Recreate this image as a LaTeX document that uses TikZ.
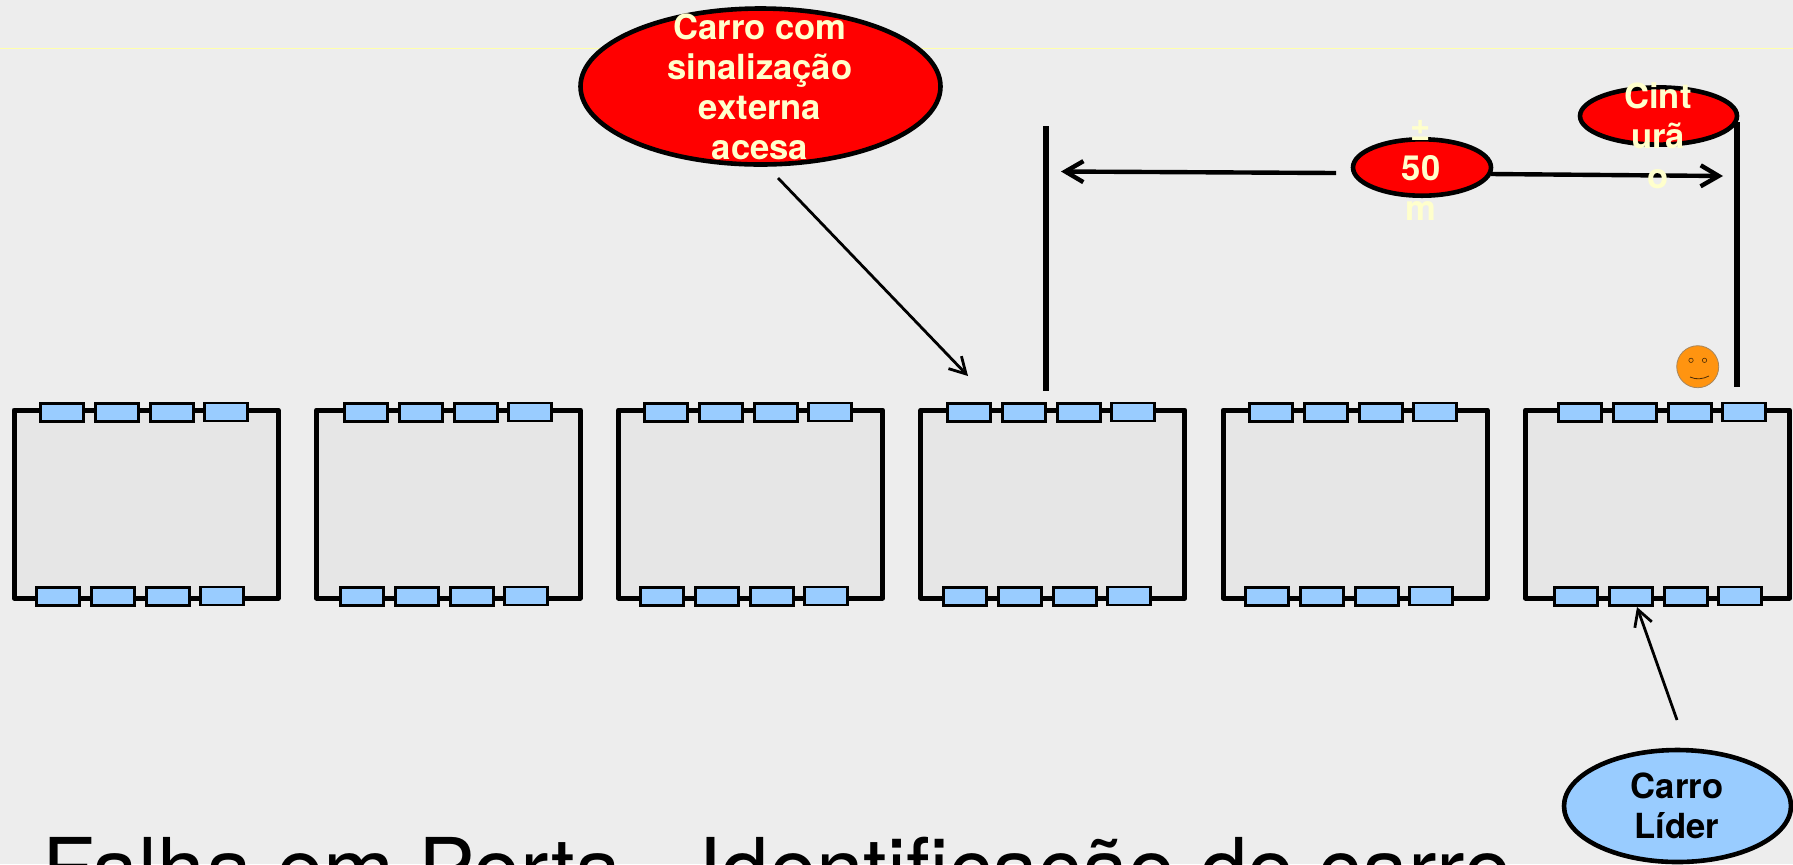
\documentclass[tikz,border=0pt]{standalone}
\usepackage{fontspec}
\setmainfont{TeX Gyre Heros}
\usetikzlibrary{arrows.meta,shapes.geometric}
\definecolor{bgc}{HTML}{EDEDED}
\definecolor{carc}{HTML}{E6E6E6}
\definecolor{winc}{HTML}{99CCFF}
\definecolor{redc}{HTML}{FF0000}
\definecolor{txtc}{HTML}{FFFFCC}
\definecolor{facec}{HTML}{FF9410}
\tikzset{
  x=0.5pt,y=-0.5pt,
  car/.style={draw=black,fill=carc,line width=2.5pt,line join=round,minimum width=132pt,minimum height=94pt,inner sep=0pt,outer sep=0pt},
  win/.style={draw=black,fill=winc,line width=1.3pt,minimum width=21.5pt,minimum height=9pt,inner sep=0pt,outer sep=0pt},
  bubble/.style={ellipse,draw=black,line width=2.3pt,inner sep=0pt,outer sep=0pt},
  bubtext/.style={anchor=base,align=center,inner sep=0pt,font=\fontsize{17.3}{20}\selectfont\bfseries},
  post/.style={line width=2.6pt},
  barb/.style={-{Straight Barb[length=9pt,width=10.5pt,line width=2.2pt]},line width=2.2pt},
  thinbarb/.style={-{Straight Barb[length=8pt,width=9pt,line width=1.4pt]},line width=1.4pt},
}
\begin{document}
\begin{tikzpicture}
\useasboundingbox (0,0) rectangle (1793,864);
\clip (0,0) rectangle (1793,864);
\fill[bgc] (0,0) rectangle (1793,864);
\coordinate (ruleL) at (0,48.5);
\coordinate (ruleR) at (1793,48.5);
\draw[txtc!85!yellow,line width=0.6pt] (ruleL) -- (ruleR);
% cars
\foreach \i/\wo in {0/0,1/304,2/604,3/907,4/1209,5/1518}{
  \pgfmathsetmacro{\xo}{302.3*\i}
  \node[car] (car\i) at (146+\xo,504) {};
  \node[win] (t1\i) at (62+\wo,412.5) {};
  \node[win] (t2\i) at (117+\wo,412.5) {};
  \node[win] (t3\i) at (172+\wo,412.5) {};
  \node[win] (t4\i) at (226+\wo,412) {};
  \node[win] (b1\i) at (58+\wo,596.5) {};
  \node[win] (b2\i) at (113+\wo,596.5) {};
  \node[win] (b3\i) at (168+\wo,596.5) {};
  \node[win] (b4\i) at (222+\wo,596) {};
}
% posts
\coordinate (p1t) at (1046,126);
\coordinate (p1b) at (1046,391);
\coordinate (p2t) at (1737,122);
\coordinate (p2b) at (1737,387);
\draw[post] (p1t) -- (p1b);
\draw[post] (p2t) -- (p2b);
% bubbles
\node[bubble,fill=redc,minimum width=180pt,minimum height=78pt] (ext) at (760.5,86.5) {};
\node[bubble,fill=redc,minimum width=69pt,minimum height=28.2pt] (dist) at (1422,167.5) {};
\node[bubble,fill=redc,minimum width=78.5pt,minimum height=28.6pt] (cint) at (1658.5,116) {};
\node[bubble,fill=winc,minimum width=113.5pt,minimum height=56pt] (lider) at (1677.5,806) {};
% arrows
\coordinate (a1s) at (1336,173);
\coordinate (a1e) at (1061,171.5);
\coordinate (a2e) at (1723,176);
\coordinate (a3s) at (778,178);
\coordinate (a3e) at (968,376);
\coordinate (a4s) at (1677,720);
\coordinate (a4e) at (1637,607);
\draw[barb] (a1s) -- (a1e);
\draw[barb] (dist.east |- 0,174) -- (a2e);
\draw[thinbarb] (a3s) -- (a3e);
\draw[thinbarb] (a4s) -- (a4e);
% bubble texts
\node[bubtext,text=txtc] (extt) at (760,159) {Carro com\\sinalização\\externa\\acesa};
\node[bubtext,text=txtc] (distt) at (1421,220) {±\\50\\m};
\node[bubtext,text=txtc] (cintt) at (1658,188) {Cint\\urã\\o};
\node[bubtext,text=black] (lidert) at (1677,838) {Carro\\Líder};
% face
\node[circle,draw=gray!70!facec,fill=facec,line width=0.4pt,minimum size=21pt,inner sep=0pt] (face) at (1697.7,366.7) {};
\node[circle,draw=black!70!facec,line width=0.3pt,minimum size=2.2pt,inner sep=0pt] (eyeL) at (1691,360.3) {};
\node[circle,draw=black!70!facec,line width=0.3pt,minimum size=2.2pt,inner sep=0pt] (eyeR) at (1704.5,360.3) {};
\coordinate (mouthL) at (1690,377);
\coordinate (mouthR) at (1709,376);
\draw[black!70!facec,line width=0.4pt] (mouthL) .. controls (1696,380) and (1703,379) .. (mouthR);
% title
\node[anchor=base west,inner sep=0pt,font=\fontsize{42.6}{46}\selectfont] (title) at (42,899) {Falha em Porta - Identificação do carro};
\end{tikzpicture}
\end{document}
